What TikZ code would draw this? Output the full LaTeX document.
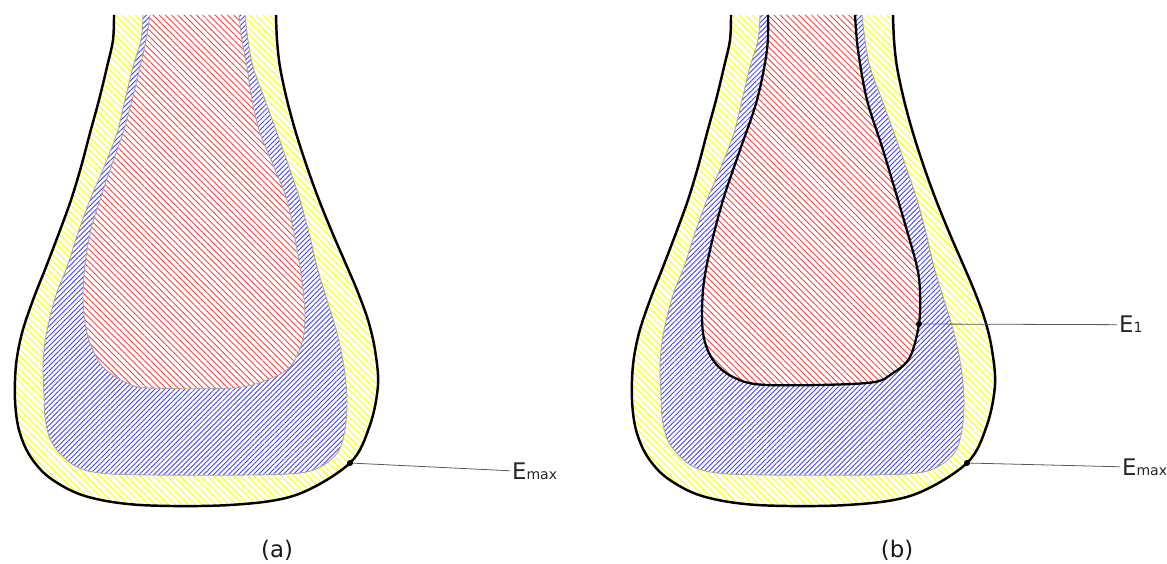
\documentclass[tikz,border=0pt]{standalone}
\usepackage{fontspec}
\setmainfont{DejaVu Sans}
\usetikzlibrary{patterns.meta}
\newcommand\shpOuter{plot[smooth,tension=0.55] coordinates {(114,15) (113,40) (107,67) (99,100) (90,133) (81,167) (71,200) (59,233) (46,267) (33,300) (22,333) (16,365) (15,400) (19,430) (30,456) (50,478) (85,496) (140,505) (230,505) (296,495) (350,463) (370,425) (378,385) (375,350) (368,320) (357,290) (345,262) (332,232) (319,200) (307,167) (296,133) (287,100) (280,67) (277,40) (276,15)}}
\newcommand\shpBlue{plot[smooth,tension=0.55] coordinates {(143,15) (141,40) (133,67) (125,100) (117,133) (104,167) (90,200) (78,233) (67,267) (57,292) (50,317) (45,342) (43,367) (44,395) (45,417) (49,436) (57,450) (75,466) (100,473) (150,475) (250,475) (300,473) (322,466) (338,452) (345,430) (347,400) (344,367) (337,333) (327,300) (317,267) (309,233) (300,200) (289,167) (277,133) (265,100) (253,67) (248,40) (245,15)}}
\newcommand\shpRedA{plot[smooth,tension=0.55] coordinates {(150,15) (146,40) (140,67) (132,100) (123,133) (111,167) (100,200) (92,225) (87,250) (84,275) (83,300) (85,322) (90,343) (103,367) (127,383) (150,388) (233,388) (267,380) (290,367) (302,343) (305,317) (303,290) (300,267) (294,233) (287,200) (274,167) (260,133) (252,100) (247,67) (242,40) (239,15)}}
\newcommand\shpRedB{plot[smooth,tension=0.55] coordinates {(768,15) (767,50) (757,100) (740,150) (723,200) (710,250) (703,290) (703,333) (713,360) (733,377) (767,385) (867,383) (893,373) (910,357) (919,324) (920,293) (917,267) (903,217) (883,150) (867,100) (858,50) (855,15)}}
\begin{document}
\begin{tikzpicture}[x=0.02cm,y=-0.02cm,
  outerline/.style={line width=1.4pt,black},
  innerline/.style={line width=0.5pt,gray!70},
  redline/.style={line width=1.3pt,black},
  yhatch/.style={pattern={Lines[angle=-45,distance=2.7pt,line width=0.55pt]},pattern color=yellow},
  bhatch/.style={preaction={fill=white},pattern={Lines[angle=45,distance=2.0pt,line width=0.5pt]},pattern color=blue!75},
  rhatch/.style={preaction={fill=white},pattern={Lines[angle=-45,distance=2.5pt,line width=0.5pt]},pattern color=red!75},
  leader/.style={line width=0.45pt,gray!70!black},
  lbl/.style={anchor=base west,inner sep=1pt,font=\fontsize{13}{15}\selectfont,text=black!85},
  captext/.style={anchor=base,font=\fontsize{13}{15}\selectfont,text=black!90}]
\useasboundingbox[fill=white] (0,0) rectangle (1167,564);
% (a)
\path[yhatch] \shpOuter -- cycle;
\path[bhatch] \shpBlue -- cycle;
\path[rhatch] \shpRedA -- cycle;
\draw[innerline] \shpBlue;
\draw[innerline] \shpRedA;
\draw[outerline] \shpOuter;
% (b)
\begin{scope}[shift={(617,0)}]
\path[yhatch] \shpOuter -- cycle;
\path[bhatch] \shpBlue -- cycle;
\end{scope}
\path[rhatch] \shpRedB -- cycle;
\begin{scope}[shift={(617,0)}]
\draw[innerline] \shpBlue;
\draw[outerline] \shpOuter;
\end{scope}
\draw[redline] \shpRedB;
% markers and labels
\coordinate (dA) at (350,463);
\coordinate (dB) at (967,463);
\coordinate (dE) at (919,324);
\node[lbl] (lA) at (510,479) {E{\fontsize{8}{8}\selectfont max}};
\node[lbl] (lE) at (1117,333) {E{\fontsize{8}{8}\selectfont 1}};
\node[lbl] (lB) at (1120,475) {E{\fontsize{8}{8}\selectfont max}};
\draw[leader] (dA) -- (lA.west);
\draw[leader] (dE) -- (lE.west);
\draw[leader] (dB) -- (lB.west);
\fill (dA) circle (1.7pt);
\fill (dB) circle (1.7pt);
\fill (dE) circle (1.7pt);
\node[captext] (capA) at (277,557) {(a)};
\node[captext] (capB) at (897,557) {(b)};
\end{tikzpicture}
\end{document}
